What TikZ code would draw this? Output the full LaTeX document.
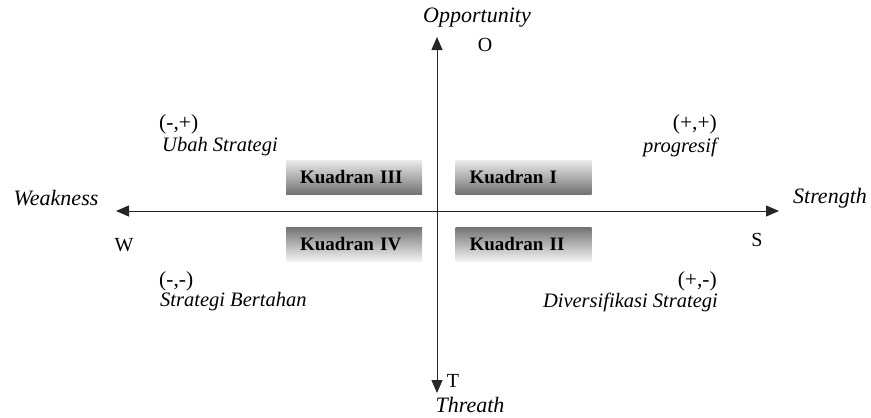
\documentclass[tikz,border=0pt]{standalone}
\usepackage{fontspec}
\setmainfont{Liberation Serif}
\usetikzlibrary{positioning,arrows.meta}
\tikzset{myAxisLine/.style={line width=1pt,color=black!85,-{Triangle[length=13pt,width=11pt]}}}
\tikzset{myQuadBox/.style={minimum height=34pt,text width=108pt,inner xsep=14pt,align=left,
	font=\fontsize{19}{22}\selectfont\bfseries}}
\tikzset{myUpShade/.style={myQuadBox,top color=black!8,bottom color=black!55}}
\tikzset{myDownShade/.style={myQuadBox,top color=black!55,bottom color=black!5}}
\tikzset{myAxisName/.style={font=\fontsize{22}{25}\selectfont\itshape}}
\tikzset{myAxisLetter/.style={font=\fontsize{20}{23}\selectfont}}
\tikzset{mySign/.style={font=\fontsize{21.5}{24}\selectfont,inner sep=0pt}}
\tikzset{myStrat/.style={font=\fontsize{20.5}{24}\selectfont\itshape,inner sep=0pt}}

\begin{document}
\begin{tikzpicture}[x=1pt,y=-1pt]
	\useasboundingbox (0,0) rectangle (871,418);
	% axes
	\coordinate (orig) at (437,211);
	\coordinate (wEnd) at (116,211);
	\coordinate (sEnd) at (779,211);
	\coordinate (oEnd) at (437,37);
	\coordinate (tEnd) at (437,393);
	\draw[myAxisLine] (orig) -- (wEnd);
	\draw[myAxisLine] (orig) -- (sEnd);
	\draw[myAxisLine] (orig) -- (oEnd);
	\draw[myAxisLine] (orig) -- (tEnd);
	% axis names
	\node[myAxisName] (weak) at (56,198) {Weakness};
	\node[myAxisName] (strong) at (830,198) {Strength};
	\node[myAxisName] (oppo) at (477,18) {Opportunity};
	\node[myAxisName] (threat) at (470,405) {Threath};
	\node[myAxisLetter] (wLet) at (124,245) {W};
	\node[myAxisLetter] (sLet) at (757,240) {S};
	\node[myAxisLetter] (oLet) at (485,45) {O};
	\node[myAxisLetter] (tLet) at (453,381) {T};
	% quadrant boxes
	\node[myUpShade] (kuadIII) at (354,177) {Kuadran III};
	\node[myUpShade] (kuadI) at (523.5,177) {Kuadran I};
	\node[myDownShade] (kuadIV) at (354,244) {Kuadran IV};
	\node[myDownShade] (kuadII) at (523.5,244) {Kuadran II};
	% strategies
	\node[mySign,anchor=west] (minPlus) at (159,124) {(-,+)};
	\node[myStrat,anchor=west] (ubah) at (162,147) {Ubah Strategi};
	\node[mySign,anchor=west] (minMin) at (159,281) {(-,-)};
	\node[myStrat,anchor=west] (tahan) at (160,302) {Strategi Bertahan};
	\node[mySign,anchor=east] (plusPlus) at (717,124) {(+,+)};
	\node[myStrat,anchor=east] (progres) at (717,147) {progresif};
	\node[mySign,anchor=east] (plusMin) at (717,281) {(+,-)};
	\node[myStrat,anchor=east] (diversi) at (718,302) {Diversifikasi Strategi};
\end{tikzpicture}
\end{document}
